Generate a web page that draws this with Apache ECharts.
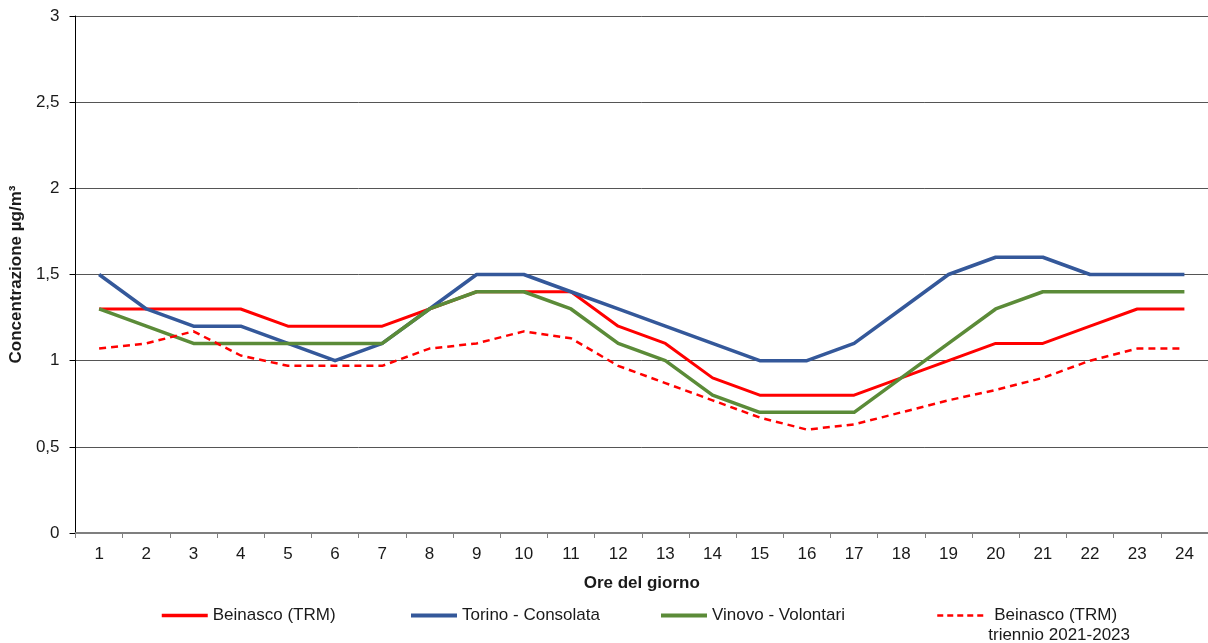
<!DOCTYPE html>
<html>
<head>
<meta charset="utf-8">
<script src="https://cdn.jsdelivr.net/npm/echarts@6/dist/echarts.min.js"></script>
<style>
  html, body { margin: 0; padding: 0; background: #fff; }
  #chart { width: 1208px; height: 643px; }
</style>
</head>
<body>
<div id="chart"></div>
<script>
// ore del giorno 1..24
const hours = ['1','2','3','4','5','6','7','8','9','10','11','12','13','14','15','16','17','18','19','20','21','22','23','24']

// concentrazioni medie orarie (µg/m³)
const beinasco = [1.3, 1.3, 1.3, 1.3, 1.2, 1.2, 1.2, 1.3, 1.4, 1.4, 1.4, 1.2, 1.1, 0.9, 0.8, 0.8, 0.8, 0.9, 1.0, 1.1, 1.1, 1.2, 1.3, 1.3]
const torino = [1.5, 1.3, 1.2, 1.2, 1.1, 1.0, 1.1, 1.3, 1.5, 1.5, 1.4, 1.3, 1.2, 1.1, 1.0, 1.0, 1.1, 1.3, 1.5, 1.6, 1.6, 1.5, 1.5, 1.5]
const vinovo = [1.3, 1.2, 1.1, 1.1, 1.1, 1.1, 1.1, 1.3, 1.4, 1.4, 1.3, 1.1, 1.0, 0.8, 0.7, 0.7, 0.7, 0.9, 1.1, 1.3, 1.4, 1.4, 1.4, 1.4]
const beinascoTriennio = [1.07, 1.1, 1.17, 1.03, 0.97, 0.97, 0.97, 1.07, 1.1, 1.17, 1.13, 0.97, 0.87, 0.77, 0.67, 0.6, 0.63, 0.7, 0.77, 0.83, 0.9, 1.0, 1.07, 1.07]

const FONT = 'Liberation Sans, Arial, sans-serif'
const TXT = '#1a1a1a'

const chart = echarts.init(document.getElementById('chart'))

function lineSeries(name, data, color, width, type) {
  return {
    name,
    type: 'line',
    data,
    symbol: 'none',
    smooth: false,
    lineStyle: { color, width, type: type || 'solid', cap: 'butt', join: 'round' },
    itemStyle: { color }
  }
}

// una legenda per voce, così la posizione di ciascuna è controllata
function legendAt(name, left, lineStyle, extra) {
  return Object.assign({
    data: [name],
    left,
    top: 607,
    padding: 0,
    itemWidth: 46,
    itemHeight: 14,
    itemStyle: { opacity: 0 },
    lineStyle,
    textStyle: { fontFamily: FONT, fontSize: 17, color: TXT }
  }, extra || {})
}

const triennioName = 'Beinasco (TRM) triennio 2021-2023'

chart.setOption({
  animation: false,
  backgroundColor: '#fff',
  grid: { left: 74, right: -3, top: 16, bottom: 110, containLabel: false },
  legend: [
    legendAt('Beinasco (TRM)', 160, { width: 3.5 }),
    legendAt('Torino - Consolata', 409, { width: 4 }),
    legendAt('Vinovo - Volontari', 659, { width: 4 }),
    legendAt(triennioName, 936, { width: 2.5, type: [6, 4] }, {
      top: 607,
      formatter: () => '{a|Beinasco (TRM)}\n{b|triennio 2021-2023}',
      textStyle: {
        fontFamily: FONT,
        fontSize: 17,
        color: TXT,
        padding: [20, 0, 0, 0],
        rich: {
          a: { fontFamily: FONT, fontSize: 17, color: TXT, lineHeight: 20, padding: [0, 0, 0, 6] },
          b: { fontFamily: FONT, fontSize: 17, color: TXT, lineHeight: 20 }
        }
      }
    })
  ],
  xAxis: {
    type: 'category',
    data: hours,
    boundaryGap: true,
    name: 'Ore del giorno',
    nameLocation: 'middle',
    nameGap: 42,
    nameTextStyle: { fontFamily: FONT, fontSize: 17, fontWeight: 'bold', color: TXT },
    axisLine: { lineStyle: { color: '#7f7f7f', width: 2 } },
    axisTick: { show: true, length: 5, lineStyle: { color: '#7f7f7f' } },
    axisLabel: { fontFamily: FONT, fontSize: 17, color: TXT, margin: 13, interval: 0 },
    splitLine: { show: false }
  },
  yAxis: {
    type: 'value',
    min: 0,
    max: 3,
    interval: 0.5,
    name: 'Concentrazione µg/m³',
    nameLocation: 'middle',
    nameGap: 46,
    nameTextStyle: { fontFamily: FONT, fontSize: 17, fontWeight: 'bold', color: TXT },
    axisLine: { show: true, lineStyle: { color: '#000', width: 1 } },
    axisTick: { show: true, length: 6, lineStyle: { color: '#000' } },
    axisLabel: {
      fontFamily: FONT,
      fontSize: 17,
      color: TXT,
      margin: 16,
      formatter: v => String(v).replace('.', ',')
    },
    splitLine: { show: true, lineStyle: { color: '#555', width: 1 } }
  },
  series: [
    lineSeries('Beinasco (TRM)', beinasco, '#ff0000', 3),
    lineSeries('Torino - Consolata', torino, '#34589a', 3.5),
    lineSeries('Vinovo - Volontari', vinovo, '#5b8b38', 3.5),
    lineSeries(triennioName, beinascoTriennio, '#ff0000', 2.5, [7, 5])
  ]
})
</script>
</body>
</html>
